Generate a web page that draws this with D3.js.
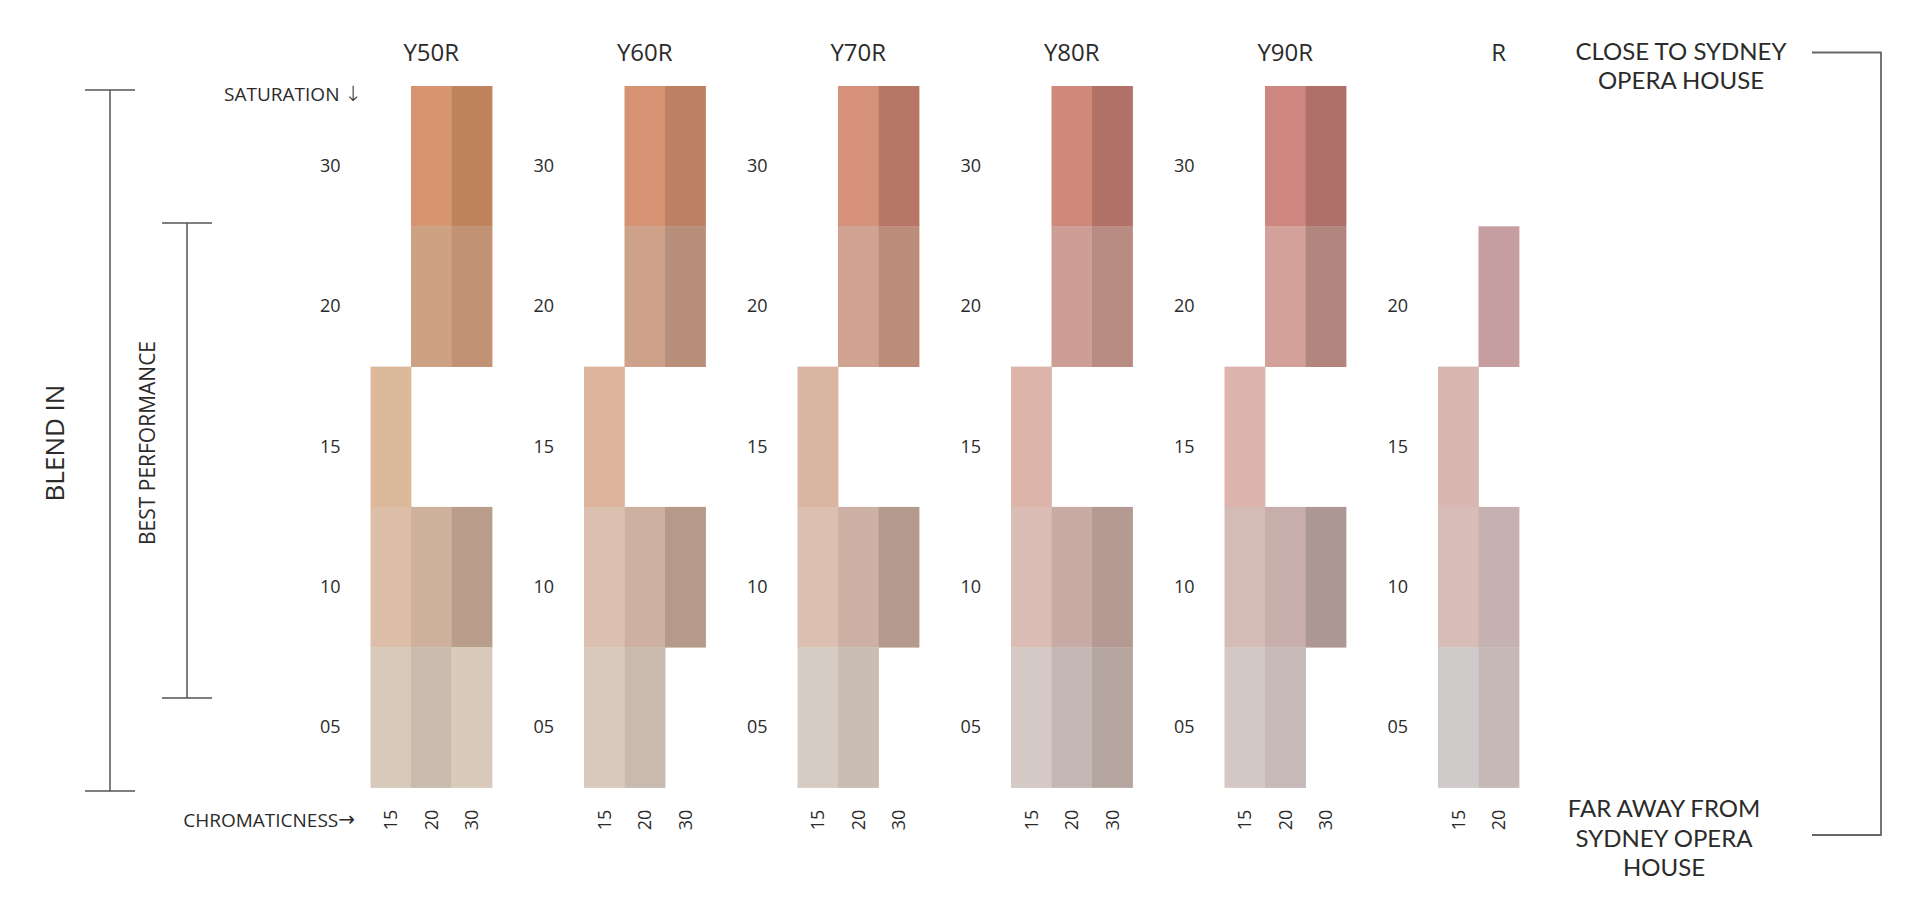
<!DOCTYPE html>
<html><head><meta charset="utf-8">
<script src="https://cdn.jsdelivr.net/npm/d3@7"></script>
<style>
body{margin:0;background:#fff;}
svg{display:block;}
text{font-family:"Open Sans","Noto Sans",sans-serif;fill:#2b2b2b;}
.arrow{font-family:"DejaVu Sans",sans-serif;}
.side{font-family:Lato,"Open Sans",sans-serif;}
</style>
</head><body>
<svg id="chart" width="1920" height="904"></svg>
<script>
// ---------- data ----------
const hues = ["Y50R", "Y60R", "Y70R", "Y80R", "Y90R", "R"];
const saturations = ["30", "20", "15", "10", "05"];
const chromaticness = ["15", "20", "30"];

// cells: [saturation, chromaticness, colour]
const cellsY50R = [
  ["30","20","#D6946F"],["30","30","#BF835D"],
  ["20","20","#CDA183"],["20","30","#C29276"],
  ["15","15","#DDB99B"],
  ["10","15","#DDBEA8"],["10","20","#CFB29D"],["10","30","#B99F8B"],
  ["05","15","#D7CABB"],["05","20","#C9BCAE"],["05","30","#D8CBBB"]
];
const cellsY60R = [
  ["30","20","#D69373"],["30","30","#BE8062"],
  ["20","20","#CDA18A"],["20","30","#B88F7B"],
  ["15","15","#DDB59D"],
  ["10","15","#DBC0AF"],["10","20","#CDB0A0"],["10","30","#B59A89"],
  ["05","15","#DACABD"],["05","20","#C9BAAF"]
];
const cellsY70R = [
  ["30","20","#D6917A"],["30","30","#B87765"],
  ["20","20","#CFA291"],["20","30","#BD8D7C"],
  ["15","15","#DAB5A1"],
  ["10","15","#DBBFB1"],["10","20","#CDB1A4"],["10","30","#B39A8D"],
  ["05","15","#D6CCC3"],["05","20","#C9BDB4"]
];
const cellsY80R = [
  ["30","20","#CF887A"],["30","30","#B27267"],
  ["20","20","#CC9E96"],["20","30","#B88B83"],
  ["15","15","#DCB4AA"],
  ["10","15","#DBBDB6"],["10","20","#C8ABA5"],["10","30","#B49A93"],
  ["05","15","#D4C9C4"],["05","20","#C5B7B3"],["05","30","#B5A69F"]
];
const cellsY90R = [
  ["30","20","#CD8680"],["30","30","#B0706A"],
  ["20","20","#D3A19A"],["20","30","#B3857F"],
  ["15","15","#DDB5AE"],
  ["10","15","#D5BBB6"],["10","20","#C8AEAA"],["10","30","#AE9893"],
  ["05","15","#D4C8C5"],["05","20","#C6B9B8"]
];
const cellsR = [
  ["20","20","#C79EA0"],
  ["15","15","#D8B6B2"],
  ["10","15","#D7BCB8"],["10","20","#C5B1AF"],
  ["05","15","#D0CBCB"],["05","20","#C5B8B7"]
];
const cellsByHue = {Y50R: cellsY50R, Y60R: cellsY60R, Y70R: cellsY70R, Y80R: cellsY80R, Y90R: cellsY90R, R: cellsR};

const saturationTitle = "SATURATION ";
const chromaTitle = "CHROMATICNESS";
const downArrow = "\u2193";
const rightArrow = "\u2192";
const blendTitle = "BLEND IN";
const bestTitle = "BEST PERFORMANCE";
const closeLines = ["CLOSE TO SYDNEY", "OPERA HOUSE"];
const farLines = ["FAR AWAY FROM", "SYDNEY OPERA", "HOUSE"];

// ---------- layout ----------
const svg = d3.select("#chart");
const colW = 40.5;
const groupStep = 213.5;
const x0 = 370.5;
const xHue = d3.scaleBand().domain(hues).range([x0, x0 + groupStep * hues.length]).padding(0);
const xChroma = d3.scaleBand().domain(chromaticness).range([0, colW * chromaticness.length]).padding(0);
const ySat = d3.scaleBand().domain(saturations).range([86, 787.5]).padding(0);
const lineColor = "#555";

hues.forEach(h => {
  const cells = cellsByHue[h];
  const g = svg.append("g").attr("transform", `translate(${xHue(h)},0)`);

  g.selectAll("rect").data(cells).join("rect")
    .attr("x", d => xChroma(d[1]))
    .attr("y", d => ySat(d[0]))
    .attr("width", xChroma.bandwidth() + 0.4)
    .attr("height", ySat.bandwidth() + 0.4)
    .attr("fill", d => d[2]);

  // header
  g.append("text")
    .attr("x", xChroma.range()[1] / 2)
    .attr("y", 61)
    .attr("text-anchor", "middle")
    .style("font-size", "24px")
    .text(h);

  // saturation axis
  const satPresent = saturations.filter(s => cells.some(c => c[0] === s));
  const ya = svg.append("g")
    .attr("transform", `translate(${xHue(h) - 30},0)`)
    .call(d3.axisLeft(ySat).tickValues(satPresent).tickSize(0).tickPadding(0));
  ya.select(".domain").remove();
  ya.attr("font-family", null).attr("font-size", null);
  ya.selectAll("text").attr("y", 10).style("font-size", "18px").attr("fill", null);

  // chromaticness axis
  const chPresent = chromaticness.filter(c => cells.some(d => d[1] === c));
  const xa = svg.append("g")
    .attr("transform", `translate(${xHue(h)},820)`)
    .call(d3.axisBottom(xChroma).tickValues(chPresent).tickSize(0).tickPadding(0));
  xa.select(".domain").remove();
  xa.attr("font-family", null).attr("font-size", null);
  xa.selectAll("text")
    .attr("y", 0).attr("dy", "0.35em")
    .attr("transform", "rotate(-90)")
    .attr("text-anchor", "middle")
    .attr("fill", null)
    .style("font-size", "18px");
});

// axis titles
const satT = svg.append("text").attr("x", 362).attr("y", 101).attr("text-anchor", "end").style("font-size", "19px");
satT.append("tspan").text(saturationTitle);
satT.append("tspan").attr("class", "arrow").style("font-size", "21px").style("font-weight", "200").text(downArrow);
const chT = svg.append("text").attr("x", 355).attr("y", 827).attr("text-anchor", "end").style("font-size", "19px");
chT.append("tspan").text(chromaTitle);
chT.append("tspan").attr("class", "arrow").style("font-size", "20px").attr("dy", -1).text(rightArrow);

// left brackets
function vBracket(x, y1, y2, half) {
  const g = svg.append("g").attr("stroke", lineColor).attr("stroke-width", 1.5);
  g.append("line").attr("x1", x).attr("x2", x).attr("y1", y1).attr("y2", y2);
  g.append("line").attr("x1", x - half).attr("x2", x + half).attr("y1", y1).attr("y2", y1);
  g.append("line").attr("x1", x - half).attr("x2", x + half).attr("y1", y2).attr("y2", y2);
}
vBracket(110, 90, 791, 25);
vBracket(187, 223, 698, 25);

svg.append("text").attr("transform", "translate(55,443) rotate(-90)")
  .attr("text-anchor", "middle").attr("dy", "0.35em")
  .style("font-size", "26px").text(blendTitle);
svg.append("text").attr("transform", "translate(148,443) rotate(-90)")
  .attr("text-anchor", "middle").attr("dy", "0.35em")
  .style("font-size", "21px").text(bestTitle);

// right bracket
const rb = svg.append("g").attr("stroke", "#666").attr("stroke-width", 1.8).attr("fill", "none");
rb.append("path").attr("d", "M1812,52.5 H1881 V835 H1812");

closeLines.forEach((t, i) => svg.append("text").attr("class", "side")
  .attr("text-anchor", "middle").style("font-size", "24px")
  .attr("x", 1681).attr("y", 60 + i * 29).text(t));
farLines.forEach((t, i) => svg.append("text").attr("class", "side")
  .attr("text-anchor", "middle").style("font-size", "24px")
  .attr("x", 1664).attr("y", 817 + i * 29.5).text(t));
</script>
</body></html>
